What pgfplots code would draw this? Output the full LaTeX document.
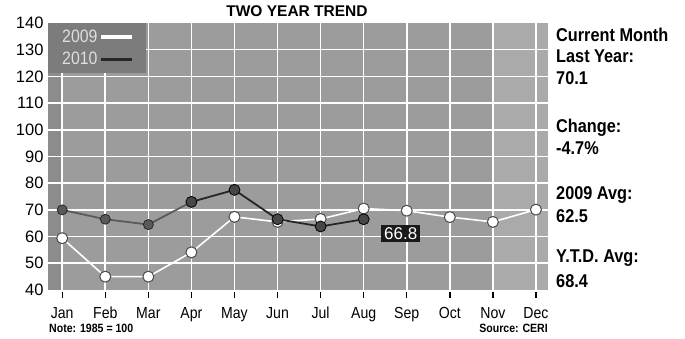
\documentclass[border=0pt]{standalone}
\usepackage{pgfplots}
\pgfplotsset{compat=1.18}
\usepackage{fontspec}
\setmainfont{Liberation Sans}
\newfontfamily\cond[FakeStretch=0.88]{Liberation Sans}
\definecolor{bgmain}{HTML}{9C9C9C}
\definecolor{bglight}{HTML}{AAAAAA}
\definecolor{bgdark}{HTML}{8C8C8C}
\definecolor{leggray}{HTML}{7C7C7C}
\definecolor{darkline}{HTML}{262626}
\definecolor{dimline}{HTML}{5A5A5A}
\begin{document}
\begin{tikzpicture}[x=1pt,y=1pt]
\useasboundingbox (0,0) rectangle (685,339);
\begin{axis}[
  at={(48pt,49pt)}, anchor=south west,
  width=500pt, height=267pt, scale only axis,
  xmin=-0.33, xmax=11.28, ymin=40, ymax=140,
  axis line style={draw=none},
  axis background/.style={fill=bgmain},
  xtick={0,...,11},
  xticklabels={Jan,Feb,Mar,Apr,May,Jun,Jul,Aug,Sep,Oct,Nov,Dec},
  ytick={40,50,...,140},
  /pgf/number format/assume math mode=true,
  xtick pos=bottom, ytick pos=left,
  major tick length=0pt,
  xticklabel style={font=\cond\fontsize{16}{17}\selectfont, anchor=north,
     text height=12pt, text depth=0pt, yshift=-12.5pt},
  yticklabel style={font=\fontsize{16.5}{18}\selectfont, xshift=-1pt},
  legend style={at={(0,1)}, anchor=north west, fill=leggray, draw=none,
    font=\cond\fontsize{18}{19}\selectfont, text=gray!25,
    inner xsep=12pt, inner ysep=5pt, row sep=4pt},
  legend plot pos=right,
  legend image code/.code={\draw[#1] (0cm,0cm) -- (1.1cm,0cm);},
  clip=false,
]
% background regions
\fill[bglight] (axis cs:10,40) rectangle (axis cs:11.28,140);
\fill[bgdark] (axis cs:-0.33,40) rectangle (axis cs:0,140);
% grid
\pgfplotsinvokeforeach{50,60,...,130}{
  \draw[white, line width=1.6pt] (axis cs:-0.33,#1) -- (axis cs:11.28,#1);
}
\pgfplotsinvokeforeach{0,...,11}{
  \draw[white, line width=1.6pt] (axis cs:#1,40) -- (axis cs:#1,140);
  \draw[black, line width=1.4pt] ([yshift=-2pt]axis cs:#1,40) -- ([yshift=-8pt]axis cs:#1,40);
}
\addlegendimage{white, line width=3.5pt}
\addlegendentry{2009}
\addlegendimage{darkline, line width=3.5pt}
\addlegendentry{2010}
% 2009
\addplot[forget plot, white, line width=1.6pt, mark=*, mark size=5.5pt,
  mark options={fill=white, draw=gray!60!black, line width=1pt}]
  coordinates {(0,59.4) (1,45) (2,45) (3,54.1) (4,67.4) (5,65.5) (6,66.6)
   (7,70.5) (8,69.7) (9,67.3) (10,65.5) (11,70.1)};
% 2010
\addplot[forget plot, dimline, line width=1.8pt, mark=*, mark size=5pt,
  mark options={fill=dimline, draw=darkline, line width=0.8pt}]
  coordinates {(0,70) (1,66.5) (2,64.5) (3,73)};
\addplot[forget plot, darkline, line width=1.8pt, mark=*, mark size=5.5pt,
  mark options={fill=darkline!85!white, draw=black, line width=0.8pt}]
  coordinates {(3,73) (4,77.5) (5,66.5) (6,63.8) (7,66.5)};
\node[fill=black!90, text=white, font=\fontsize{17}{18}\selectfont,
  inner xsep=3pt, inner ysep=2.5pt] at (axis cs:7.86,61.2) {66.8};
\end{axis}
% title
\node[font=\bfseries\fontsize{15.5}{16}\selectfont, anchor=base] at (297,322) {TWO YEAR TREND};
% right side text
\begin{scope}[every node/.style={anchor=base west, inner sep=0pt,
   font=\cond\bfseries\fontsize{18.5}{20}\selectfont}]
\node at (556,297) {Current Month};
\node at (556,276) {Last Year:};
\node at (556,254) {70.1};
\node at (556,206) {Change:};
\node at (556,184) {-4.7\%};
\node at (556,139) {2009 Avg:};
\node at (556,116) {62.5};
\node at (556,76) {Y.T.D. Avg:};
\node at (556,51) {68.4};
\end{scope}
\node[anchor=base west, inner sep=0pt, font=\cond\bfseries\fontsize{12}{13}\selectfont] at (49,6) {Note: 1985 = 100};
\node[anchor=base east, inner sep=0pt, font=\cond\bfseries\fontsize{12}{13}\selectfont] at (548,6) {Source: CERI};
\end{tikzpicture}
\end{document}
